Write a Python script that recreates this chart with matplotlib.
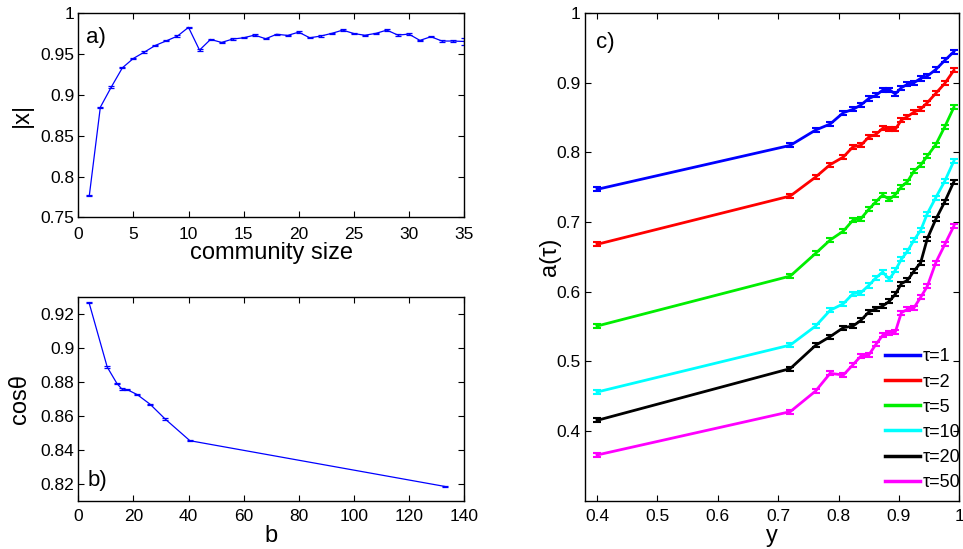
import matplotlib
matplotlib.use("Agg")
import matplotlib.pyplot as plt
import numpy as np

plt.rcParams['font.family'] = ['Liberation Sans', 'DejaVu Sans']

# Panel a data
a_size = list(range(1, 36))
a_x = [0.7767, 0.8849, 0.9098, 0.9332, 0.9447, 0.9525, 0.9607, 0.9663, 0.9721, 0.9828,
       0.9549, 0.9680, 0.9643, 0.9684, 0.9700, 0.9733, 0.9688, 0.9743, 0.9729, 0.9769,
       0.9700, 0.9721, 0.9754, 0.9794, 0.9752, 0.9731, 0.9754, 0.9794, 0.9733, 0.9745,
       0.9668, 0.9713, 0.9660, 0.9660, 0.9655]
a_err = [0.0008]*34 + [0.004]

# Panel b data
b_b = [3.9, 10.5, 14.0, 15.8, 17.8, 21.4, 26.1, 31.5, 40.5, 133.0]
b_cos = [0.9265, 0.8886, 0.8790, 0.8757, 0.8753, 0.8724, 0.8667, 0.8581, 0.8453, 0.8184]
b_err = [0.0004]*10

# Panel c data
c_y = [0.40, 0.72, 0.762, 0.786, 0.808, 0.824, 0.837, 0.850, 0.862, 0.873,
       0.884, 0.894, 0.904, 0.914, 0.925, 0.936, 0.947, 0.961, 0.976, 0.991]
tau_labels = ['τ=1', 'τ=2', 'τ=5', 'τ=10', 'τ=20', 'τ=50']
tau_colors = ['#0000ff', '#ff0000', '#00ee00', '#00ffff', '#000000', '#ff00ff']
a_tau1 = [0.7469, 0.8100, 0.8320, 0.8406, 0.8570, 0.8617, 0.8680, 0.8772, 0.8818, 0.8892,
          0.8899, 0.8838, 0.8928, 0.8976, 0.9000, 0.9061, 0.9095, 0.9188, 0.9320, 0.9445]
a_tau2 = [0.6680, 0.7373, 0.7645, 0.7823, 0.7933, 0.8081, 0.8100, 0.8220, 0.8258, 0.8344,
          0.8340, 0.8330, 0.8463, 0.8512, 0.8578, 0.8621, 0.8713, 0.8846, 0.8990, 0.9177]
a_tau5 = [0.5507, 0.6224, 0.6550, 0.6741, 0.6870, 0.7028, 0.7048, 0.7182, 0.7292, 0.7387,
          0.7325, 0.7393, 0.7507, 0.7579, 0.7731, 0.7817, 0.7947, 0.8110, 0.8368, 0.8646]
a_tau10 = [0.4560, 0.5234, 0.5507, 0.5732, 0.5828, 0.5972, 0.5986, 0.6090, 0.6200, 0.6282,
           0.6177, 0.6306, 0.6464, 0.6579, 0.6741, 0.6880, 0.7120, 0.7350, 0.7588, 0.7875]
a_tau20 = [0.4153, 0.4896, 0.5230, 0.5355, 0.5484, 0.5507, 0.5589, 0.5708, 0.5757, 0.5794,
           0.5861, 0.5962, 0.6115, 0.6163, 0.6296, 0.6417, 0.6761, 0.7038, 0.7292, 0.7579]
a_tau50 = [0.3656, 0.4278, 0.4574, 0.4828, 0.4804, 0.4953, 0.5076, 0.5091, 0.5245, 0.5373,
           0.5412, 0.5420, 0.5699, 0.5746, 0.5770, 0.5920, 0.6076, 0.6417, 0.6680, 0.6942]
c_err = 0.003

W, H = 963, 549
fig = plt.figure(figsize=(W/100, H/100), dpi=100)

def fbox(l, t, r, b):
    return [l/W, 1-b/H, (r-l)/W, (b-t)/H]

tick_fs = 12.5
label_fs = 17

def style(ax, xpad):
    ax.tick_params(direction='in', top=True, right=True, labelsize=tick_fs,
                   length=4, width=0.8)
    ax.tick_params(axis='y', pad=3)
    ax.tick_params(axis='x', pad=xpad)
    for s in ax.spines.values():
        s.set_linewidth(1.0)

def place_labels(ax, box, xlab_y, ylab_x):
    l, t, r, b = box
    ax.xaxis.label.set_verticalalignment('center')
    ax.yaxis.label.set_verticalalignment('center')
    ax.xaxis.set_label_coords(0.5, (b - xlab_y)/(b - t))
    ax.yaxis.set_label_coords((ylab_x - l)/(r - l), 0.5)

# Panel a
box1 = (78.3, 13.3, 464, 217.3)
ax1 = fig.add_axes(fbox(*box1))
ax1.errorbar(a_size, a_x, yerr=a_err, color='#0000ff', lw=0.9, capsize=2.5,
             elinewidth=0.9, capthick=0.9)
ax1.set_xlim(0, 35)
ax1.set_ylim(0.75, 1)
ax1.set_xticks(range(0, 36, 5))
ax1.set_yticks([0.75, 0.8, 0.85, 0.9, 0.95, 1.0])
ax1.set_yticklabels(['0.75', '0.8', '0.85', '0.9', '0.95', '1'])
ax1.set_xlabel('community size', fontsize=label_fs)
ax1.set_ylabel('|x|', fontsize=label_fs)
place_labels(ax1, box1, 253, 21.5)
ax1.text(0.02, 0.88, 'a)', transform=ax1.transAxes, fontsize=16, va='center')
style(ax1, 7)

# Panel b
box2 = (78.3, 296.7, 464, 500.7)
ax2 = fig.add_axes(fbox(*box2))
ax2.errorbar(b_b, b_cos, yerr=b_err, color='#0000ff', lw=0.9, capsize=2.5,
             elinewidth=0.9, capthick=0.9)
ax2.set_xlim(0, 140)
ax2.set_ylim(0.81, 0.93)
ax2.set_xticks(range(0, 141, 20))
ax2.set_yticks([0.82, 0.84, 0.86, 0.88, 0.9, 0.92])
ax2.set_yticklabels(['0.82', '0.84', '0.86', '0.88', '0.9', '0.92'])
ax2.set_xlabel('b', fontsize=label_fs)
ax2.set_ylabel('cosθ', fontsize=label_fs)
place_labels(ax2, box2, 536, 20)
ax2.text(0.025, 0.1, 'b)', transform=ax2.transAxes, fontsize=16, va='center')
style(ax2, 6)

# Panel c
box3 = (585, 13, 959.3, 500.7)
ax3 = fig.add_axes(fbox(*box3))
series = [a_tau1, a_tau2, a_tau5, a_tau10, a_tau20, a_tau50]
for vals, lab, col in zip(series, tau_labels, tau_colors):
    ax3.errorbar(c_y, vals, yerr=c_err, color=col, lw=2.0, capsize=3,
                 elinewidth=1.5, capthick=1.5, label=lab)
ax3.set_xlim(0.38, 1.0)
ax3.set_ylim(0.3, 1.0)
ax3.set_xticks([0.4, 0.5, 0.6, 0.7, 0.8, 0.9, 1.0])
ax3.set_xticklabels(['0.4', '0.5', '0.6', '0.7', '0.8', '0.9', '1'])
ax3.set_yticks([0.4, 0.5, 0.6, 0.7, 0.8, 0.9, 1.0])
ax3.set_yticklabels(['0.4', '0.5', '0.6', '0.7', '0.8', '0.9', '1'])
ax3.set_xlabel('y', fontsize=label_fs)
ax3.set_ylabel('a(τ)', fontsize=label_fs)
place_labels(ax3, box3, 536, 550)
ax3.text(0.03, 0.94, 'c)', transform=ax3.transAxes, fontsize=16, va='center')
handles = [plt.Line2D([], [], color=c, lw=2.5) for c in tau_colors]
ax3.legend(handles, tau_labels, loc='lower right', frameon=False, fontsize=13,
           handlelength=1.95, handletextpad=0.15, labelspacing=0.45,
           borderaxespad=0.0, bbox_to_anchor=(1.023, 0.005))
style(ax3, 6)

fig.savefig('out.png', dpi=100)
